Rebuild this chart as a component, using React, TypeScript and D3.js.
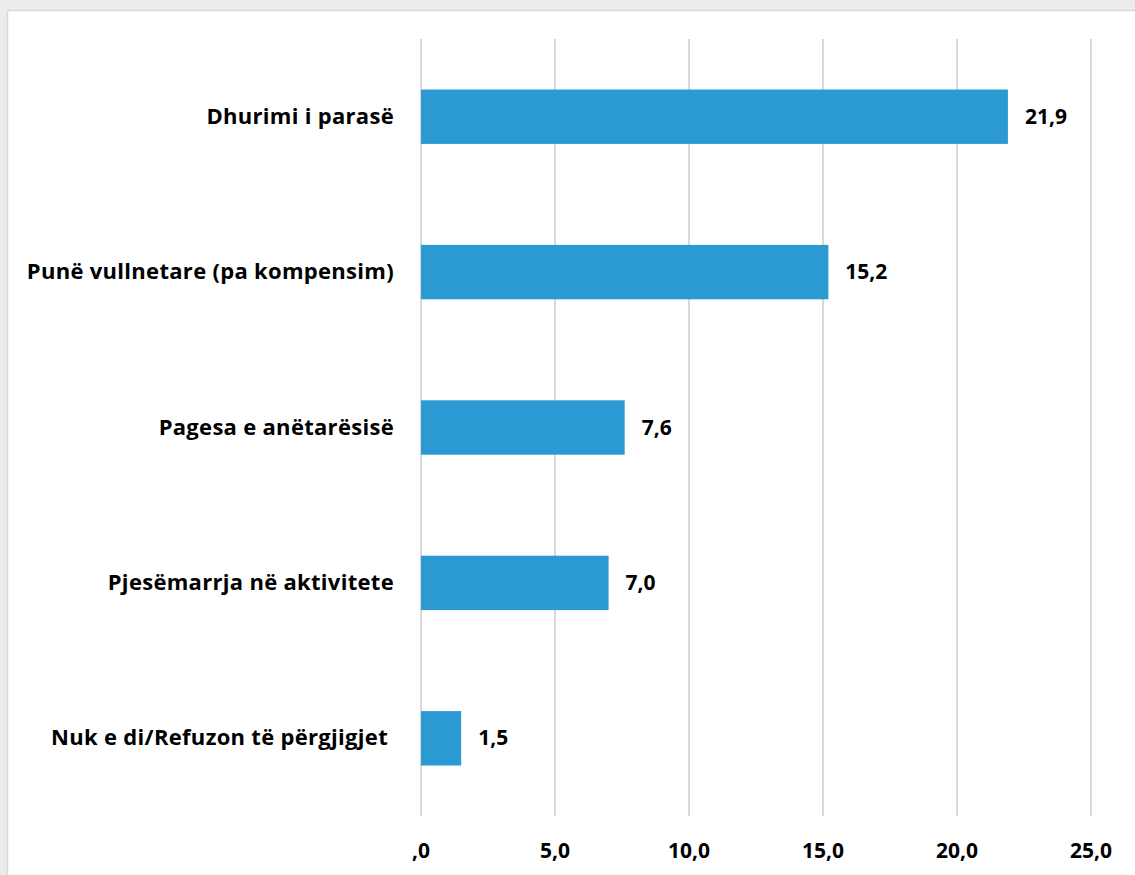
import React from "react";
import * as d3 from "d3";

const categories = [
  "Dhurimi i parasë",
  "Punë vullnetare (pa kompensim)",
  "Pagesa e anëtarësisë",
  "Pjesëmarrja në aktivitete",
  "Nuk e di/Refuzon të përgjigjet ",
];
const values = [21.9, 15.2, 7.6, 7.0, 1.5];
const valueLabels = ["21,9", "15,2", "7,6", "7,0", "1,5"];
const tickValues = [0, 5, 10, 15, 20, 25];
const tickLabels = [",0", "5,0", "10,0", "15,0", "20,0", "25,0"];

const W = 1135;
const H = 875;
const FONT = "'Open Sans', 'Noto Sans', sans-serif";

export default function App() {
  const x = d3.scaleLinear().domain([0, 25]).range([421, 1091]);
  const y = d3.scaleBand<string>().domain(categories).range([39, 816]).paddingInner(0.65).paddingOuter(0.325);

  return (
    <div style={{ position: "absolute", left: 0, top: 0, width: W, height: H, overflow: "hidden" }}>
      <svg width={W} height={H} style={{ display: "block" }}>
        <rect x={0} y={0} width={W} height={H} fill="#ececec" />
        <rect x={7.5} y={10.5} width={W + 10} height={H + 10} fill="#ffffff" stroke="#d9d9d9" strokeWidth={1.5} />
        {tickValues.map((t) => (
          <line key={t} x1={x(t)} x2={x(t)} y1={39} y2={816} stroke="#d9d9d9" strokeWidth={2} />
        ))}
        {categories.map((c, i) => (
          <rect key={c} x={x(0)} y={y(c)!} width={x(values[i]) - x(0)} height={y.bandwidth()} fill="#2b99d2" />
        ))}
        {categories.map((c) => (
          <text
            key={c}
            x={394}
            y={y(c)! + y.bandwidth() / 2 + 7}
            textAnchor="end"
            fontFamily={FONT}
            fontWeight={700}
            fontSize={22}
            letterSpacing={0.3}
            fill="#000"
            style={{ whiteSpace: "pre" }}
          >
            {c}
          </text>
        ))}
        {categories.map((c, i) => (
          <text
            key={c}
            x={x(values[i]) + 17}
            y={y(c)! + y.bandwidth() / 2 + 7}
            fontFamily={FONT}
            fontWeight={700}
            fontSize={21}
            fill="#000"
          >
            {valueLabels[i]}
          </text>
        ))}
        {tickValues.map((t, i) => (
          <text
            key={t}
            x={x(t)}
            y={858}
            textAnchor="middle"
            fontFamily={FONT}
            fontWeight={700}
            fontSize={21}
            fill="#000"
          >
            {tickLabels[i]}
          </text>
        ))}
      </svg>
    </div>
  );
}
